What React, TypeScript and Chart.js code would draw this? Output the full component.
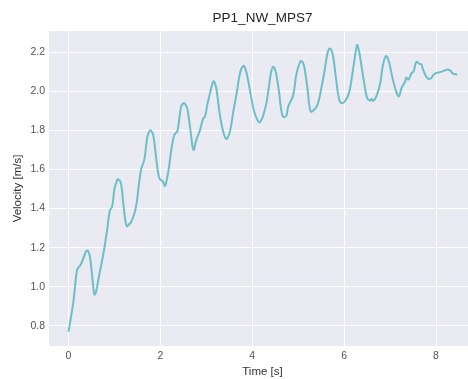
import { useEffect, useRef } from "react";
import { Chart, registerables } from "chart.js";

Chart.register(...registerables);

const chartTitle = "PP1_NW_MPS7";
const xAxisLabel = "Time [s]";
const yAxisLabel = "Velocity [m/s]";

const timeS = [
  0.0, 0.05, 0.11, 0.18, 0.22, 0.26, 0.33, 0.38, 0.42, 0.46, 0.49, 0.53, 0.565, 0.6, 0.66, 0.76, 0.84, 0.9, 0.95,
  1.0, 1.05, 1.08, 1.14, 1.19, 1.23, 1.27, 1.32, 1.36, 1.44, 1.49, 1.53, 1.58, 1.65, 1.72, 1.78, 1.82, 1.85, 1.93,
  1.97, 2.0, 2.05, 2.1, 2.14, 2.18, 2.25, 2.31, 2.37, 2.45, 2.51, 2.55, 2.59, 2.66, 2.72, 2.78, 2.86, 2.93, 2.97,
  3.02, 3.08, 3.15, 3.18, 3.22, 3.3, 3.37, 3.43, 3.47, 3.52, 3.59, 3.66, 3.74, 3.81, 3.84, 3.88, 3.96, 4.03, 4.09,
  4.15, 4.19, 4.23, 4.3, 4.36, 4.41, 4.45, 4.48, 4.52, 4.58, 4.65, 4.71, 4.75, 4.78, 4.89, 4.96, 5.05, 5.09, 5.13,
  5.2, 5.27, 5.35, 5.42, 5.49, 5.57, 5.64, 5.69, 5.75, 5.82, 5.9, 5.97, 6.04, 6.09, 6.13, 6.21, 6.28, 6.31, 6.35,
  6.43, 6.5, 6.56, 6.6, 6.63, 6.7, 6.78, 6.84, 6.91, 6.98, 7.05, 7.13, 7.19, 7.25, 7.29, 7.33, 7.35, 7.4, 7.47,
  7.51, 7.57, 7.64, 7.68, 7.72, 7.8, 7.88, 7.95, 8.02, 8.13, 8.23, 8.3, 8.37, 8.46,
];

const velocity = [
  0.77, 0.84, 0.93, 1.08, 1.1, 1.11, 1.15, 1.18, 1.185, 1.16, 1.11, 1.02, 0.96, 0.975, 1.05, 1.17, 1.29, 1.39, 1.41,
  1.5, 1.54, 1.55, 1.53, 1.43, 1.35, 1.31, 1.32, 1.33, 1.38, 1.44, 1.52, 1.6, 1.65, 1.77, 1.8, 1.79, 1.77, 1.615,
  1.56, 1.547, 1.54, 1.516, 1.55, 1.6, 1.72, 1.78, 1.795, 1.92, 1.94, 1.93, 1.906, 1.79, 1.7, 1.75, 1.8, 1.86, 1.87,
  1.93, 1.99, 2.05, 2.045, 2.01, 1.87, 1.79, 1.756, 1.765, 1.8, 1.9, 1.99, 2.1, 2.13, 2.12, 2.09, 1.99, 1.906, 1.864,
  1.84, 1.85, 1.87, 1.93, 2.02, 2.1, 2.125, 2.12, 2.09, 2.0, 1.88, 1.867, 1.88, 1.92, 1.98, 2.086, 2.154, 2.15, 2.128,
  2.017, 1.897, 1.906, 1.93, 2.0, 2.1, 2.197, 2.219, 2.19, 2.07, 1.95, 1.94, 1.957, 1.98, 2.017, 2.137, 2.236, 2.22, 2.171,
  2.05, 1.966, 1.952, 1.96, 1.95, 1.974, 2.034, 2.128, 2.18, 2.146, 2.07, 2.0, 1.974, 2.017, 2.034, 2.05, 2.07, 2.06, 2.094,
  2.1, 2.15, 2.14, 2.138, 2.11, 2.07, 2.064, 2.086, 2.094, 2.1, 2.11, 2.108, 2.09, 2.086,
];

const xTickValues = [0, 2, 4, 6, 8];
const yTickValues = [0.8, 1.0, 1.2, 1.4, 1.6, 1.8, 2.0, 2.2];

const FONT = "'Liberation Sans', Arial, sans-serif";

const backgroundPlugin = {
  id: "plotBackground",
  beforeDraw(chart: any) {
    const { ctx, chartArea } = chart;
    ctx.save();
    ctx.fillStyle = "#ffffff";
    ctx.fillRect(0, 0, chart.width, chart.height);
    ctx.fillStyle = "#eaeaf2";
    ctx.fillRect(chartArea.left, chartArea.top, chartArea.right - chartArea.left, chartArea.bottom - chartArea.top);
    ctx.restore();
  },
};

export default function App() {
  const ref = useRef<HTMLCanvasElement>(null);

  useEffect(() => {
    document.body.style.margin = "0";
    document.body.style.overflow = "hidden";
    const canvas = ref.current;
    if (!canvas) return;
    const chart = new Chart(canvas, {
      type: "line",
      data: {
        datasets: [
          {
            data: timeS.map((t, i) => ({ x: t, y: velocity[i] })),
            borderColor: "#6cbfc7",
            borderWidth: 2,
            pointRadius: 0,
            tension: 0.4,
            fill: false,
          },
        ],
      },
      options: {
        animation: false,
        responsive: false,
        devicePixelRatio: 1,
        layout: { padding: 0 },
        plugins: {
          legend: { display: false },
          tooltip: { enabled: false },
          title: {
            display: true,
            text: chartTitle,
            fullSize: false,
            color: "#262626",
            font: { family: FONT, size: 13.5, weight: "normal", lineHeight: 1.2 },
            padding: { top: 9.8, bottom: 5 },
          },
        },
        scales: {
          x: {
            type: "linear",
            min: -0.425,
            max: 8.87,
            afterBuildTicks: (s: any) => {
              s.ticks = xTickValues.map((v) => ({ value: v }));
            },
            afterFit: (s: any) => {
              s.height = 33;
            },
            grid: { color: "#ffffff", lineWidth: 1, drawTicks: false },
            border: { display: false },
            ticks: {
              color: "#555555",
              font: { family: FONT, size: 10.5 },
              padding: 4,
              maxRotation: 0,
              callback: (v: any) => String(v),
            },
            title: {
              display: true,
              text: xAxisLabel,
              color: "#333333",
              font: { family: FONT, size: 11.5 },
              padding: 0,
            },
          },
          y: {
            type: "linear",
            min: 0.697,
            max: 2.308,
            afterBuildTicks: (s: any) => {
              s.ticks = yTickValues.map((v) => ({ value: v }));
            },
            afterFit: (s: any) => {
              s.width = 49;
            },
            grid: { color: "#ffffff", lineWidth: 1, drawTicks: false },
            border: { display: false },
            ticks: {
              color: "#555555",
              font: { family: FONT, size: 10.5 },
              padding: 4,
              callback: (v: any) => Number(v).toFixed(1),
            },
            title: {
              display: true,
              text: yAxisLabel,
              color: "#333333",
              font: { family: FONT, size: 11.5 },
              padding: 10.5,
            },
          },
        },
      },
      plugins: [backgroundPlugin],
    });
    return () => chart.destroy();
  }, []);

  return <canvas ref={ref} width={476} height={379} style={{ display: "block" }} />;
}
